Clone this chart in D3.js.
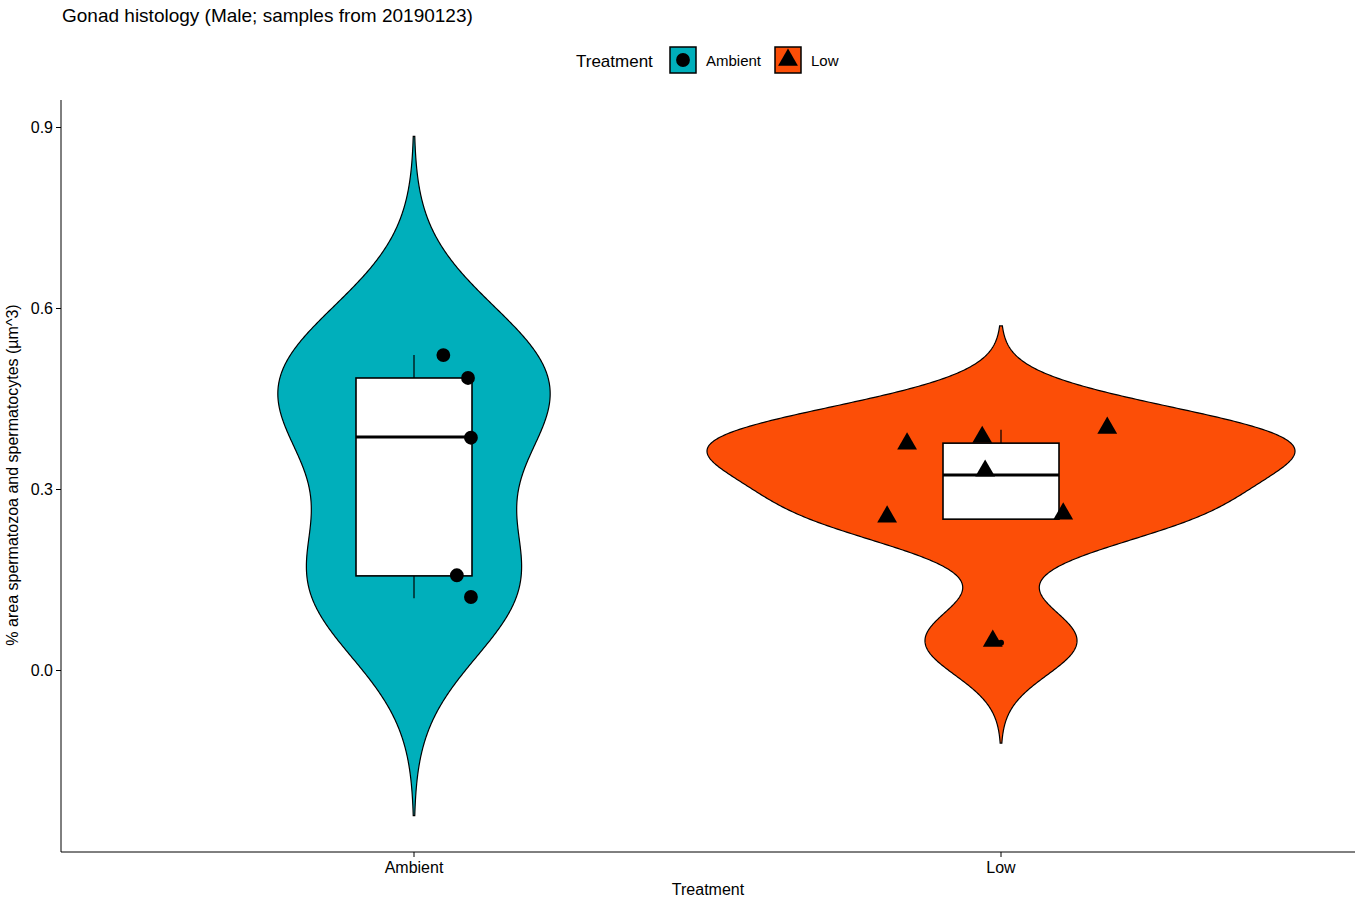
<!DOCTYPE html>
<html><head><meta charset="utf-8">
<script src="https://cdn.jsdelivr.net/npm/d3@7"></script>
<style>body{margin:0;background:#fff;font-family:Arial,"Liberation Sans",sans-serif}</style>
</head><body><svg id="chart" width="1359" height="906"></svg>
<script>
// values
const groups = ['Ambient', 'Low'];
const colors = ['#00AFBB', '#FC4E07'];
const ambientVals = [0.522, 0.484, 0.385, 0.157, 0.121];
const ambientJitter = [0.05, 0.092, 0.097, 0.073, 0.097];
const lowVals = [0.254, 0.375, 0.386, 0.330, 0.048, 0.259, 0.401];
const lowJitter = [-0.194, -0.160, -0.032, -0.027, -0.014, 0.106, 0.181];
// box stats: lower whisker, q1, median, q3, upper whisker
const boxStats = [[0.119, 0.156, 0.386, 0.484, 0.522], [0.250, 0.250, 0.323, 0.376, 0.398]];
const outliers = [[], [0.045]];
const yTicks = [0.0, 0.3, 0.6, 0.9];

const svg = d3.select('#chart');
const plotL = 61, plotR = 1355, plotT = 100, plotB = 852;
const y = d3.scaleLinear().domain([0, 0.9]).range([670, 127]);
const x = d3.scaleLinear().domain([0, 1]).range([414, 1001]); // category index -> px
const series = [ambientVals, lowVals];
const jitters = [ambientJitter, lowJitter];

// gaussian KDE, bw.nrd0, extended 3 bw (like ggplot trim = FALSE)
function nrd0(v) {
  const s = v.slice().sort(d3.ascending);
  const q = d3.quantile(s, 0.75) - d3.quantile(s, 0.25);
  return 0.9 * Math.min(d3.deviation(v), q / 1.34) * Math.pow(v.length, -0.2);
}
const dens = series.map(v => {
  const bw = nrd0(v);
  const lo = d3.min(v) - 3 * bw, hi = d3.max(v) + 3 * bw;
  return d3.range(0, 513).map(i => {
    const t = lo + (hi - lo) * i / 512;
    const d = d3.mean(v, a => Math.exp(-0.5 * ((t - a) / bw) ** 2)) / (bw * Math.sqrt(2 * Math.PI));
    return [t, d];
  });
});
const maxD = d3.max(dens, ds => d3.max(ds, d => d[1]));
const w = d3.scaleLinear().domain([0, maxD]).range([0, 294]);

dens.forEach((ds, g) => {
  const cx = x(g);
  const pts = ds.map(d => [cx - w(d[1]), y(d[0])]).concat(ds.slice().reverse().map(d => [cx + w(d[1]), y(d[0])]));
  svg.append('path').attr('d', d3.line()(pts) + 'Z')
    .attr('fill', colors[g]).attr('stroke', '#000').attr('stroke-width', 1.2);
});

const bh = 58;
boxStats.forEach((b, g) => {
  const cx = x(g);
  svg.append('line').attr('x1', cx).attr('x2', cx).attr('y1', y(b[0])).attr('y2', y(b[4])).attr('stroke', '#000').attr('stroke-width', 1.2);
  svg.append('rect').attr('x', cx - bh).attr('width', bh * 2).attr('y', y(b[3])).attr('height', y(b[1]) - y(b[3]))
    .attr('fill', '#fff').attr('stroke', '#000').attr('stroke-width', 1.6);
  svg.append('line').attr('x1', cx - bh).attr('x2', cx + bh).attr('y1', y(b[2])).attr('y2', y(b[2])).attr('stroke', '#000').attr('stroke-width', 3);
  outliers[g].forEach(o => svg.append('circle').attr('cx', cx).attr('cy', y(o)).attr('r', 3).attr('fill', '#000'));
});

const circ = d3.symbol().type(d3.symbolCircle).size(150);
const tri = d3.symbol().type(d3.symbolTriangle).size(170);
series.forEach((v, g) => {
  v.forEach((val, i) => {
    svg.append('path').attr('d', g === 0 ? circ() : tri())
      .attr('transform', `translate(${x(g + jitters[g][i])},${y(val)})`).attr('fill', '#000');
  });
});

// axes
const yAxis = svg.append('g').attr('transform', `translate(${plotL},0)`)
  .call(d3.axisLeft(y).tickValues(yTicks).tickFormat(d3.format('.1f')).tickSize(5).tickSizeOuter(0));
yAxis.select('.domain').attr('d', `M0,${plotT}V${plotB}`);
const xAxis = svg.append('g').attr('transform', `translate(0,${plotB})`);
xAxis.append('line').attr('x1', plotL).attr('x2', plotR).attr('stroke', '#000');
groups.forEach((gname, g) => {
  xAxis.append('line').attr('x1', x(g)).attr('x2', x(g)).attr('y2', 5).attr('stroke', '#000');
  xAxis.append('text').attr('x', x(g)).attr('y', 21).attr('text-anchor', 'middle').attr('font-size', 16).attr('fill', '#000').text(gname);
});
svg.selectAll('.tick text').attr('font-size', 16).attr('fill', '#000');
svg.selectAll('.domain,.tick line').attr('stroke', '#000');

svg.append('text').attr('x', 708).attr('y', 895).attr('text-anchor', 'middle').attr('font-size', 16).text('Treatment');
svg.append('text').attr('transform', 'translate(18,475) rotate(-90)').attr('text-anchor', 'middle').attr('font-size', 16).text('% area spermatozoa and spermatocytes (µm^3)');
svg.append('text').attr('x', 62).attr('y', 22).attr('font-size', 19).text('Gonad histology (Male; samples from 20190123)');

// legend
svg.append('text').attr('x', 576).attr('y', 67).attr('font-size', 17).text('Treatment');
[[670, 'Ambient', circ], [775, 'Low', tri]].forEach((l, g) => {
  svg.append('rect').attr('x', l[0]).attr('y', 47).attr('width', 26).attr('height', 26).attr('fill', colors[g]).attr('stroke', '#000').attr('stroke-width', 1.5);
  svg.append('path').attr('d', l[2]()).attr('transform', `translate(${l[0] + 13},60)`).attr('fill', '#000');
  svg.append('text').attr('x', l[0] + 36).attr('y', 66).attr('font-size', 15).text(l[1]);
});
</script></body></html>
